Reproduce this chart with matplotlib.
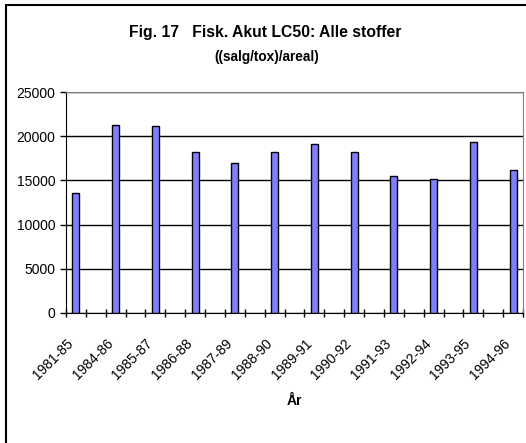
import matplotlib
matplotlib.use("Agg")
import matplotlib.pyplot as plt
from matplotlib.patches import Rectangle
import numpy as np

periods = ["1981-85", "1984-86", "1985-87", "1986-88", "1987-89", "1988-90",
           "1989-91", "1990-92", "1991-93", "1992-94", "1993-95", "1994-96"]
values = [13550, 21300, 21100, 18200, 16950, 18200,
          19150, 18200, 15500, 15200, 19350, 16150]
yticks = [0, 5000, 10000, 15000, 20000, 25000]

plt.rcParams['font.family'] = ['Liberation Sans', 'DejaVu Sans']

fig = plt.figure(figsize=(5.26, 4.43), dpi=100)
ax = fig.add_axes([66/526, 1-313/443, (523-66)/526, (313-92)/443])

# every second slot holds a bar
x = np.arange(len(periods)) * 2
ax.bar(x, values, width=0.35, color="#8080ff", edgecolor="black", linewidth=1, zorder=3)

ax.set_xlim(-0.5, 2*len(periods) - 1.5)
ax.set_ylim(0, 25000)
ax.set_yticks(yticks)
ax.yaxis.grid(True, color="black", linewidth=1, zorder=0)
ax.tick_params(axis="y", direction="out", length=4.5, width=1, labelsize=10, pad=3)

ax.set_xticks(np.arange(-0.5, 2*len(periods) - 1, 1.0))
ax.set_xticklabels([])
ax.set_xticks(x, minor=True)
ax.set_xticklabels(periods, minor=True, rotation=45, ha="right", fontsize=10)
ax.tick_params(axis="x", which="major", direction="inout", length=6, width=1)
ax.tick_params(axis="x", which="minor", length=0, pad=17)

for s in ["top", "right"]:
    ax.spines[s].set_color("#808080")
for s in ["left", "bottom"]:
    ax.spines[s].set_color("black")

ax.set_xlabel("År", fontweight="bold", fontsize=10, labelpad=8)

fig.text(0.505, 1-33/443, "Fig. 17   Fisk. Akut LC50: Alle stoffer", ha="center", va="center",
         fontsize=11.3, fontweight="bold")
fig.text(0.507, 1-57/443, "((salg/tox)/areal)", ha="center", va="center",
         fontsize=9.8, fontweight="bold")

fig.patches.append(Rectangle((6/526, -0.1), 1.2, 1.1 - 5/443, transform=fig.transFigure,
                             fill=False, edgecolor="black", linewidth=1.5))

fig.savefig("out.png", dpi=100)
